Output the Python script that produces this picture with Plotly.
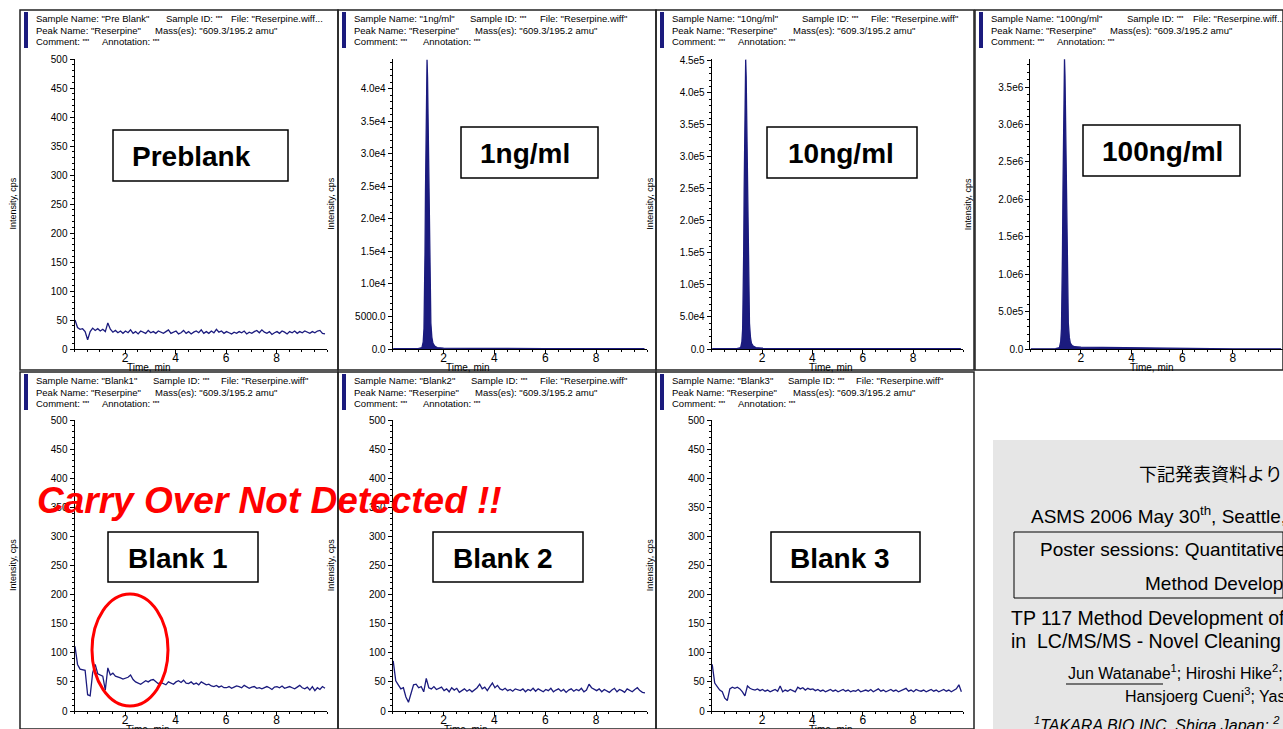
import plotly.graph_objects as go

W, H = 1283, 729

# ---------------- data ----------------
TIME = [round(0.02 + 0.1 * i, 2) for i in range(100)]

PREBLANK = [50, 37, 34, 35, 30, 16, 30, 36, 32, 35,
            31, 34, 30, 45, 34, 29, 32, 28, 31, 27,
            31, 28, 33, 27, 30, 26, 31, 29, 27, 32,
            28, 30, 27, 31, 29, 27, 30, 33, 27, 29,
            31, 26, 28, 32, 27, 30, 26, 29, 31, 28,
            33, 27, 30, 27, 31, 28, 34, 29, 31, 27,
            30, 28, 26, 29, 27, 30, 28, 31, 26, 29,
            27, 30, 32, 28, 33, 29, 27, 30, 25, 28,
            30, 27, 31, 29, 26, 30, 28, 31, 27, 30,
            28, 31, 29, 27, 30, 28, 31, 32, 27, 26]

BLANK1 = [111, 80, 72, 71, 70, 28, 26, 66, 80, 64,
          62, 60, 36, 74, 62, 65, 60, 59, 57, 55,
          56, 58, 62, 54, 50, 48, 46, 49, 52, 50,
          53, 54, 51, 47, 49, 47, 45, 50, 48, 46,
          50, 52, 49, 53, 48, 47, 50, 46, 48, 45,
          50, 47, 45, 46, 43, 42, 44, 41, 43, 40,
          40, 42, 39, 41, 43, 42, 40, 44, 41, 39,
          41, 42, 39, 40, 38, 40, 42, 40, 37, 41,
          42, 40, 43, 39, 41, 42, 40, 38, 41, 44,
          40, 38, 41, 36, 42, 35, 40, 37, 42, 39]

BLANK2 = [86, 52, 45, 38, 40, 24, 15, 32, 45, 46,
          40, 42, 33, 56, 40, 38, 42, 37, 39, 41,
          35, 38, 33, 40, 36, 39, 32, 35, 38, 34,
          37, 33, 36, 40, 46, 38, 41, 35, 42, 48,
          40, 44, 38, 36, 39, 35, 37, 34, 38, 36,
          35, 38, 33, 37, 35, 39, 34, 38, 36, 33,
          37, 35, 39, 33, 36, 38, 34, 37, 32, 36,
          38, 34, 37, 35, 39, 33, 36, 46, 40, 37,
          35, 38, 33, 37, 35, 32, 36, 39, 33, 37,
          35, 32, 38, 36, 33, 37, 40, 35, 32, 31]

BLANK3 = [80, 48, 42, 36, 33, 22, 18, 38, 41, 39,
          41, 38, 33, 26, 43, 39, 37, 36, 38, 35,
          37, 34, 36, 33, 35, 37, 34, 43, 33, 36,
          34, 37, 35, 33, 41, 38, 40, 36, 39, 37,
          38, 35, 37, 34, 36, 33, 35, 37, 34, 36,
          33, 35, 37, 34, 36, 33, 35, 34, 37, 33,
          35, 36, 34, 37, 33, 35, 38, 34, 36, 33,
          35, 37, 34, 36, 33, 35, 37, 39, 34, 36,
          33, 37, 35, 34, 36, 33, 35, 37, 34, 36,
          33, 35, 37, 34, 36, 33, 35, 38, 45, 33]

PEAK_TIME = [0.02, 0.6, 1.0, 1.15, 1.20, 1.23, 1.25, 1.27, 1.29, 1.31, 1.33, 1.35, 1.37,
             1.39, 1.41, 1.43, 1.45, 1.47, 1.50, 1.54, 1.58, 1.65, 1.75, 2.0, 3.0, 4.5,
             6.0, 8.0, 9.9]
PEAK_1NG = [40, 30, 50, 220, 1100, 3100, 7100, 14700, 24500, 33800, 41000, 44500, 41800,
            35600, 28000, 20500, 13800, 8500, 4000, 1800, 900, 450, 220, 120, 80, 60,
            50, 50, 50]
PEAK_10NG = [400, 300, 500, 2300, 11300, 31600, 72000, 149000, 249000, 343000, 416000, 452000, 425000,
             362000, 285000, 208000, 140000, 86000, 40700, 18000, 9000, 4500, 2300, 1200, 800, 600,
             500, 500, 500]
PEAK_100NG = [3000, 2000, 4000, 19000, 97000, 270000, 620000, 1280000, 2130000, 2940000, 3560000, 3870000,
              3640000, 3100000, 2440000, 1780000, 1200000, 740000, 350000, 155000, 80000, 45000, 30000,
              25000, 20000, 15000, 3000, 2000, 2000]

TICKS_500 = [0, 50, 100, 150, 200, 250, 300, 350, 400, 450, 500]
TICKS_1NG = [0, 5000, 10000, 15000, 20000, 25000, 30000, 35000, 40000]
TEXT_1NG = ["0.0", "5000.0", "1.0e4", "1.5e4", "2.0e4", "2.5e4", "3.0e4", "3.5e4", "4.0e4"]
TICKS_10NG = [0, 50000, 100000, 150000, 200000, 250000, 300000, 350000, 400000, 450000]
TEXT_10NG = ["0.0", "5.0e4", "1.0e5", "1.5e5", "2.0e5", "2.5e5", "3.0e5", "3.5e5", "4.0e5", "4.5e5"]
TICKS_100NG = [0, 500000, 1000000, 1500000, 2000000, 2500000, 3000000, 3500000]
TEXT_100NG = ["0.0", "5.0e5", "1.0e6", "1.5e6", "2.0e6", "2.5e6", "3.0e6", "3.5e6"]
X_TICKS = [2, 4, 6, 8]

SAMPLE_NAMES = ["Pre Blank", "1ng/ml", "10ng/ml", "100ng/ml", "Blank1", "Blank2", "Blank3"]
BOX_LABELS = ["Preblank", "1ng/ml", "10ng/ml", "100ng/ml", "Blank 1", "Blank 2", "Blank 3"]

NAVY = "#1b1b7e"
ARIAL = "Liberation Sans, Arial, sans-serif"
HDR = 9.5


def fx(p):
    return min(max(p / W, 0), 1)


def fy(p):
    return min(max(1 - p / H, 0), 1)


TOP = dict(frame_top=10, ybot=349, ytop=59)
BOT = dict(frame_top=372, ybot=711, ytop=420)
panels = [
    dict(left=20, row=TOP, x0=74.5, x10=327, xmax=10, ymax=500, tv=TICKS_500, tt=[str(v) for v in TICKS_500], minor=10,
         x=TIME, y=PREBLANK, fill=False, tlab=2.95,
         seg=[(14, 144, 209), (14, 133), (14, 80)], file_end='...', box=(113, 130, 288, 181, 130)),
    dict(left=338, row=TOP, x0=392.7, x10=647, xmax=10, ymax=44600, tv=TICKS_1NG, tt=TEXT_1NG, minor=1000,
         x=PEAK_TIME, y=PEAK_1NG, fill=True, tlab=2.95,
         seg=[(14, 130, 200), (14, 135), (14, 83)], file_end='"', box=(461, 127, 598, 178, 478)),
    dict(left=656, row=TOP, x0=711.7, x10=963.4, xmax=10, ymax=453000, tv=TICKS_10NG, tt=TEXT_10NG, minor=10000,
         x=PEAK_TIME, y=PEAK_10NG, fill=True, tlab=4.75,
         seg=[(14, 144, 213), (14, 135), (14, 80)], file_end='"', box=(767, 127, 917, 178, 786)),
    dict(left=975, row=TOP, x0=1030.3, x10=1283, xmax=9.976, ymax=3874000, tv=TICKS_100NG, tt=TEXT_100NG, minor=100000,
         x=PEAK_TIME, y=PEAK_100NG, fill=True, tlab=4.8,
         seg=[(14, 150, 216), (14, 133), (14, 80)], file_end='...', box=(1083, 125, 1240, 176, 1100)),
    dict(left=20, row=BOT, x0=74.5, x10=327, xmax=10, ymax=500, tv=TICKS_500, tt=[str(v) for v in TICKS_500], minor=10,
         x=TIME, y=BLANK1, fill=False, tlab=2.9,
         seg=[(14, 131, 199), (14, 133), (14, 80)], file_end='"', box=(108, 532, 258, 582, 126)),
    dict(left=338, row=BOT, x0=392.7, x10=647, xmax=10, ymax=500, tv=TICKS_500, tt=[str(v) for v in TICKS_500], minor=10,
         x=TIME, y=BLANK2, fill=False, tlab=2.9,
         seg=[(14, 131, 200), (14, 135), (14, 83)], file_end='"', box=(433, 532, 583, 582, 451)),
    dict(left=656, row=BOT, x0=711.7, x10=963.4, xmax=10, ymax=500, tv=TICKS_500, tt=[str(v) for v in TICKS_500], minor=10,
         x=TIME, y=BLANK3, fill=False, tlab=4.75,
         seg=[(14, 130, 198), (14, 135), (14, 80)], file_end='"', box=(771, 532, 920, 582, 788)),
]

fig = go.Figure()
shapes = []
annotations = []
layout = dict(width=W, height=H, margin=dict(l=0, r=0, t=0, b=0, pad=0, autoexpand=False),
              paper_bgcolor="white", plot_bgcolor="rgba(0,0,0,0)", showlegend=False)

for i, p in enumerate(panels):
    n = i + 1
    xa = "x" if n == 1 else f"x{n}"
    ya = "y" if n == 1 else f"y{n}"
    r = p["row"]
    trace = dict(x=p["x"], y=p["y"], xaxis=xa, yaxis=ya, mode="lines",
                 line=dict(color=NAVY, width=1.3), hoverinfo="skip")
    if p["fill"]:
        trace["fill"] = "tozeroy"
        trace["fillcolor"] = NAVY
    fig.add_trace(go.Scatter(**trace))

    layout["xaxis" if n == 1 else f"xaxis{n}"] = dict(
        domain=[fx(p["x0"]), fx(p["x10"])], range=[0, p["xmax"]], anchor=ya, automargin=False,
        showgrid=False, zeroline=False, showline=True, linecolor="black", linewidth=1,
        ticks="outside", ticklen=4, tickcolor="black", tickvals=X_TICKS, ticklabelstandoff=-6,
        tickfont=dict(family=ARIAL, size=12, color="black"),
        minor=dict(ticks="outside", ticklen=2, dtick=0.5, tickcolor="black", showgrid=False),
    )
    layout["yaxis" if n == 1 else f"yaxis{n}"] = dict(
        domain=[fy(r["ybot"]), fy(r["ytop"])], range=[0, p["ymax"]], anchor=xa, automargin=False,
        showgrid=False, zeroline=False, showline=True, linecolor="black", linewidth=1,
        ticks="outside", ticklen=4, tickcolor="black", tickvals=p["tv"], ticktext=p["tt"],
        tickfont=dict(family=ARIAL, size=10, color="black"),
        minor=dict(ticks="outside", ticklen=2, dtick=p["minor"], tickcolor="black", showgrid=False),
    )

    left = p["left"]
    ft = r["frame_top"]
    shapes.append(dict(type="rect", xref="paper", yref="paper",
                       x0=fx(left), x1=fx(left + 318 if left < 975 else 1295),
                       y0=fy(ft + 360 if ft == 10 else 740), y1=fy(ft),
                       line=dict(color="#222222", width=1.5), fillcolor="rgba(0,0,0,0)", layer="above"))
    shapes.append(dict(type="rect", xref="paper", yref="paper",
                       x0=fx(left + 4), x1=fx(left + 8), y0=fy(ft + 38), y1=fy(ft + 2),
                       line=dict(width=0), fillcolor=NAVY))
    s1, s2, s3 = p["seg"]
    lines = [
        [(s1[0], f'Sample Name: "{SAMPLE_NAMES[i]}"'), (s1[1], 'Sample ID: ""'),
         (s1[2], 'File: "Reserpine.wiff' + p["file_end"])],
        [(s2[0], 'Peak Name: "Reserpine"'), (s2[1], 'Mass(es): "609.3/195.2 amu"')],
        [(s3[0], 'Comment: ""'), (s3[1], 'Annotation: ""')],
    ]
    for li, line in enumerate(lines):
        for dx, txt in line:
            annotations.append(dict(xref="paper", yref="paper", x=fx(left + dx), y=fy(ft + 9 + li * 11.5),
                                    xanchor="left", yanchor="middle", showarrow=False, text=txt,
                                    font=dict(family=ARIAL, size=HDR, color="black")))
    ymid = (r["ybot"] + r["ytop"]) / 2
    annotations.append(dict(xref="paper", yref="paper", x=fx(p["x0"] - 62), y=fy(ymid),
                            xanchor="center", yanchor="middle", showarrow=False, text="Intensity, cps",
                            textangle=-90, font=dict(family=ARIAL, size=9, color="black")))
    xl = p["x0"] + (p["x10"] - p["x0"]) * p["tlab"] / p["xmax"]
    annotations.append(dict(xref="paper", yref="paper", x=fx(xl), y=fy(r["ybot"] + 18),
                            xanchor="center", yanchor="middle", showarrow=False, text="Time, min",
                            font=dict(family=ARIAL, size=10, color="black")))
    bx0, by0, bx1, by1, tx = p["box"]
    shapes.append(dict(type="rect", xref="paper", yref="paper", x0=fx(bx0), x1=fx(bx1),
                       y0=fy(by1), y1=fy(by0), line=dict(color="black", width=1.5), fillcolor="white"))
    annotations.append(dict(xref="paper", yref="paper", x=fx(tx), y=fy((by0 + by1) / 2 + 1),
                            xanchor="left", yanchor="middle", showarrow=False,
                            text=f"<b>{BOX_LABELS[i]}</b>",
                            font=dict(family=ARIAL, size=28, color="black")))

annotations.append(dict(xref="paper", yref="paper", x=fx(35), y=fy(500), xanchor="left", yanchor="middle",
                        showarrow=False, text="<b><i>Carry Over Not Detected !!</i></b>",
                        font=dict(family=ARIAL, size=37, color="#ff0000")))
shapes.append(dict(type="circle", xref="paper", yref="paper", x0=fx(92), x1=fx(168), y0=fy(706), y1=fy(594),
                   line=dict(color="#ff0000", width=3)))

shapes.append(dict(type="rect", xref="paper", yref="paper", x0=fx(993), x1=fx(1295), y0=fy(740), y1=fy(440),
                   line=dict(width=0), fillcolor="#e6e6e6", layer="below"))
shapes.append(dict(type="rect", xref="paper", yref="paper", x0=fx(1014), x1=fx(1295), y0=fy(598), y1=fy(532),
                   line=dict(color="black", width=1), fillcolor="rgba(0,0,0,0)"))
shapes.append(dict(type="line", xref="paper", yref="paper", x0=fx(1066), x1=fx(1163), y0=fy(684), y1=fy(684),
                   line=dict(color="black", width=1)))

INFO = [
    (1137, 473, "下記発表資料より", 18, "Noto Sans CJK JP, sans-serif"),
    (1029, 515, "ASMS 2006 May 30<sup>th</sup>, Seattle,", 19, ARIAL),
    (1038, 549, "Poster sessions: Quantitative", 19, ARIAL),
    (1143, 583, "Method Develop", 19, ARIAL),
    (1009, 618, "TP 117 Method Development of", 19.5, ARIAL),
    (1009, 641, "in  LC/MS/MS - Novel Cleaning T", 19.5, ARIAL),
    (1066, 672, "Jun Watanabe<sup>1</sup>; Hiroshi Hike<sup>2</sup>;", 16, ARIAL),
    (1123, 695, "Hansjoerg Cueni<sup>3</sup>; Yas", 16, ARIAL),
    (1032, 724, "<i><sup>1</sup>TAKARA BIO INC, Shiga Japan; <sup>2</sup></i>", 16, ARIAL),
]
for x, y, t, s, fam in INFO:
    annotations.append(dict(xref="paper", yref="paper", x=fx(x), y=fy(y), xanchor="left", yanchor="middle",
                            showarrow=False, text=t, font=dict(family=fam, size=s, color="black")))

layout["shapes"] = shapes
layout["annotations"] = annotations
fig.update_layout(**layout)
fig.write_html(
    "out.html",
    config={"displayModeBar": False},
    post_script=("document.body.style.margin='0';document.body.style.padding='0';"
                 "var gd=document.getElementById('{plot_id}');gd.style.position='absolute';"
                 "gd.style.left='0px';gd.style.top='0px';"),
)
